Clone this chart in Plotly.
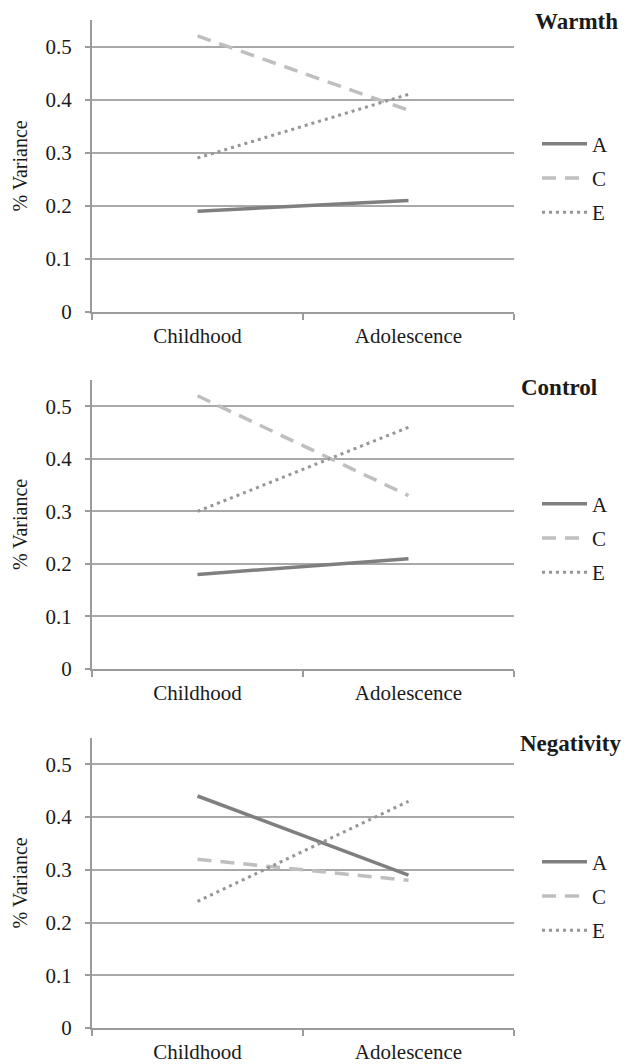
import plotly.graph_objects as go

periods = ["Childhood", "Adolescence"]
components = ["A", "C", "E"]
panel_titles = ["Warmth", "Control", "Negativity"]

warmth_A = [0.19, 0.21]
warmth_C = [0.52, 0.38]
warmth_E = [0.29, 0.41]

control_A = [0.18, 0.21]
control_C = [0.52, 0.33]
control_E = [0.30, 0.46]

negativity_A = [0.44, 0.29]
negativity_C = [0.32, 0.28]
negativity_E = [0.24, 0.43]

y_ticks = [0, 0.1, 0.2, 0.3, 0.4, 0.5]
y_ticklabels = ["0", "0.1", "0.2", "0.3", "0.4", "0.5"]

panels = [
    [warmth_A, warmth_C, warmth_E],
    [control_A, control_C, control_E],
    [negativity_A, negativity_C, negativity_E],
]

styles = {
    "A": dict(color="#7f7f7f", width=3.5, dash="solid"),
    "C": dict(color="#bfbfbf", width=3.5, dash="14px,9px"),
    "E": dict(color="#969696", width=3, dash="3px,4px"),
}

FONT = "Liberation Serif, Times New Roman, serif"
W, H = 628, 1064
ml, mr = 92, 114
mt, mb = 20, 36
plot_h = H - mt - mb
plot_w = W - ml - mr
bottom_px = H - mb

def py(p):
    return (bottom_px - p) / plot_h

def px(p):
    return (p - ml) / plot_w

domains = [
    [py(312), 1.0],
    [py(669), py(380)],
    [0.0, py(738)],
]
legend_centers = [py(178), py(538), py(896)]
title_pos = [(533, 22), (519, 387), (518, 743)]

fig = go.Figure()
axis_color = "#9b9b9b"
grid_color = "#a9a9a9"
txt_color = "#1a1a1a"

for i, series in enumerate(panels):
    n = i + 1
    xa = "x" if n == 1 else f"x{n}"
    ya = "y" if n == 1 else f"y{n}"
    leg = "legend" if n == 1 else f"legend{n}"
    for comp, vals in zip(components, series):
        st = styles[comp]
        fig.add_trace(go.Scatter(
            x=periods, y=vals, mode="lines", name=comp,
            line=dict(color=st["color"], width=st["width"], dash=st["dash"]),
            xaxis=xa, yaxis=ya, legend=leg, legendgroup=f"{n}{comp}",
            hoverinfo="skip",
        ))
    xkey = "xaxis" if n == 1 else f"xaxis{n}"
    ykey = "yaxis" if n == 1 else f"yaxis{n}"
    fig.layout[xkey] = dict(
        domain=[0, 1], anchor=ya, type="category", range=[-0.5, 1.5],
        categoryorder="array", categoryarray=periods,
        tickson="boundaries", ticks="outside", ticklen=6, tickcolor=axis_color, tickwidth=1.5,
        showline=True, linecolor=axis_color, linewidth=2, showgrid=False,
        tickfont=dict(family=FONT, size=21, color=txt_color), zeroline=False,
        automargin=False, ticklabelstandoff=4,
    )
    fig.layout[ykey] = dict(
        domain=domains[i], anchor=xa, range=[0, 0.55],
        tickvals=y_ticks, ticktext=y_ticklabels,
        ticks="outside", ticklen=5, tickcolor=axis_color, tickwidth=1.5,
        showline=True, linecolor=axis_color, linewidth=2,
        showgrid=True, gridcolor=grid_color, gridwidth=1.5, zeroline=False,
        ticklabelstandoff=9, automargin=False,
        tickfont=dict(family=FONT, size=21, color=txt_color),
        title=dict(text="% Variance", font=dict(family=FONT, size=20, color=txt_color), standoff=13),
    )
    fig.layout[leg] = dict(
        x=px(537), xanchor="left", y=legend_centers[i], yanchor="middle",
        font=dict(family=FONT, size=21, color=txt_color),
        bgcolor="rgba(0,0,0,0)", tracegroupgap=4, itemwidth=45,
    )
    tx, tyy = title_pos[i]
    fig.add_annotation(
        text=f"<b>{panel_titles[i]}</b>", xref="paper", yref="paper",
        x=px(tx), y=py(tyy), xanchor="left", yanchor="middle",
        showarrow=False, font=dict(family=FONT, size=23, color=txt_color),
    )

fig.update_layout(
    width=W, height=H, margin=dict(l=ml, r=mr, t=mt, b=mb, autoexpand=False),
    plot_bgcolor="white", paper_bgcolor="white", showlegend=True,
)

fig.write_html(
    "out.html",
    config={"displayModeBar": False},
    post_script="document.body.style.margin='0px';document.body.style.overflow='hidden';",
)
